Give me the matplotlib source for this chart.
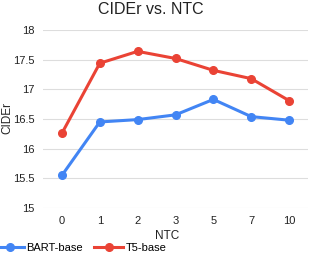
import matplotlib
matplotlib.use("Agg")
import matplotlib.pyplot as plt

ntc = ["0", "1", "2", "3", "5", "7", "10"]
bart = [15.55, 16.45, 16.49, 16.57, 16.83, 16.54, 16.48]
t5 = [16.26, 17.44, 17.64, 17.52, 17.32, 17.18, 16.81]
yticks = [15, 15.5, 16, 16.5, 17, 17.5, 18]

plt.rcParams['font.family'] = ['Liberation Sans', 'DejaVu Sans']
fig = plt.figure(figsize=(3.1, 2.54), dpi=100)
ax = fig.add_axes([43/310, 1-208/254, 265/310, 178/254])
x = list(range(len(ntc)))
ax.plot(x, bart, color='#4285F4', lw=2.2, marker='o', ms=5.5, label='BART-base', zorder=3)
ax.plot(x, t5, color='#EA4335', lw=2.2, marker='o', ms=5.5, label='T5-base', zorder=3)
ax.set_xticks(x)
ax.set_xticklabels(ntc)
ax.set_yticks(yticks)
ax.set_yticklabels([f"{v:g}" for v in yticks])
ax.set_ylim(15, 18)
ax.set_xlim(-0.5, 6.5)
for s in ax.spines.values():
    s.set_visible(False)
ax.grid(axis='y', color='#dddddd', lw=0.8)
ax.tick_params(length=0, labelsize=8, colors='#222222', pad=6)
ax.set_xlabel('NTC', fontsize=8.5, color='#222222')
ax.xaxis.set_label_coords((167-43)/265, -(230-208)/178)
fig.text(7/310, 1-118/254, 'CIDEr', fontsize=8.5, color='#222222', rotation=90,
         ha='center', va='center')
fig.text(151/310, 1-9/254, 'CIDEr vs. NTC', fontsize=11.5, color='#222222',
         ha='center', va='center')
fig.legend(loc='center left', bbox_to_anchor=(-0.015, 1-248/254), ncol=2, frameon=False,
           fontsize=8, handlelength=2.6, columnspacing=1.0, borderaxespad=0, borderpad=0,
           handletextpad=0.2)
fig.savefig('out.png', dpi=100)
